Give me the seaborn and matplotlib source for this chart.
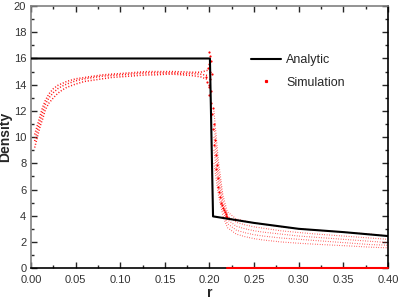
import numpy as np
import pandas as pd
import seaborn as sns
import matplotlib.pyplot as plt
from matplotlib.lines import Line2D

sns.set_style('ticks')
plt.rcParams['font.family'] = ['Liberation Sans', 'DejaVu Sans']

# Analytic solution
r_analytic = [0.0, 0.2005, 0.204, 0.25, 0.30, 0.35, 0.40]
dens_analytic = [16.0, 16.0, 3.95, 3.45, 3.0, 2.75, 2.45]

# Simulation, inner region: strands of the dotted band
r_inner = [0.004, 0.007, 0.01, 0.013, 0.016, 0.02, 0.025, 0.03, 0.035, 0.04, 0.05, 0.06,
           0.07, 0.08, 0.09, 0.10, 0.11, 0.12, 0.13, 0.14, 0.15, 0.16, 0.17, 0.18, 0.19, 0.198]
inner_high = [10.2, 10.9, 11.6, 12.3, 12.8, 13.3, 13.7, 13.95, 14.1, 14.25, 14.45, 14.55,
              14.65, 14.75, 14.8, 14.85, 14.9, 14.95, 15.0, 15.0, 15.0, 15.0, 14.98, 14.95, 14.95, 15.1]
inner_mid = [9.7, 10.5, 11.2, 11.9, 12.5, 13.0, 13.4, 13.7, 13.9, 14.05, 14.3, 14.45,
             14.55, 14.65, 14.7, 14.75, 14.8, 14.85, 14.9, 14.9, 14.9, 14.9, 14.85, 14.85, 14.8, 14.7]
inner_low = [9.2, 10.0, 10.8, 11.4, 12.1, 12.6, 13.0, 13.35, 13.6, 13.8, 14.05, 14.25,
             14.35, 14.45, 14.55, 14.6, 14.65, 14.7, 14.75, 14.75, 14.8, 14.8, 14.75, 14.7, 14.6, 14.4]

# Simulation near the shock front (scattered points)
r_front = [0.196, 0.197, 0.198, 0.199, 0.199, 0.200, 0.200, 0.200, 0.201, 0.201, 0.201, 0.202,
           0.202, 0.202, 0.203, 0.203, 0.204, 0.204, 0.205, 0.205, 0.206, 0.207, 0.207, 0.208,
           0.209, 0.210, 0.211, 0.212, 0.213, 0.214, 0.215, 0.216, 0.217, 0.218, 0.219, 0.220]
dens_front = [14.6, 14.2, 15.3, 13.8, 15.6, 16.5, 14.0, 13.2, 16.2, 15.0, 14.4, 15.8,
              13.5, 12.6, 14.8, 11.8, 12.2, 10.6, 11.0, 9.4, 9.8, 8.6, 7.6, 7.9,
              6.9, 6.2, 5.8, 5.4, 5.0, 4.8, 4.6, 4.4, 4.3, 4.1, 4.0, 3.9]

# Simulation, outer region: strands fanning out below the analytic line
r_outer = [0.205, 0.21, 0.215, 0.22, 0.23, 0.24, 0.25, 0.26, 0.28, 0.30, 0.32, 0.34, 0.36, 0.38, 0.40]
outer_1 = [12.0, 8.2, 5.6, 4.3, 3.75, 3.6, 3.45, 3.35, 3.15, 3.0, 2.9, 2.8, 2.7, 2.6, 2.45]
outer_2 = [11.0, 7.5, 5.2, 4.0, 3.5, 3.3, 3.15, 3.05, 2.85, 2.72, 2.6, 2.5, 2.4, 2.3, 2.2]
outer_3 = [10.0, 6.8, 4.8, 3.7, 3.2, 3.0, 2.85, 2.75, 2.6, 2.45, 2.35, 2.25, 2.15, 2.05, 1.95]
outer_4 = [9.0, 6.2, 4.4, 3.4, 2.9, 2.7, 2.55, 2.45, 2.3, 2.2, 2.1, 2.0, 1.9, 1.8, 1.75]
outer_5 = [8.0, 5.6, 4.0, 3.1, 2.6, 2.4, 2.25, 2.15, 2.0, 1.9, 1.82, 1.75, 1.68, 1.6, 1.55]

# Particles with zero density beyond the front
r_zero = [0.22, 0.23, 0.24, 0.25, 0.26, 0.27, 0.28, 0.29, 0.30, 0.31, 0.32, 0.33, 0.34,
          0.35, 0.36, 0.37, 0.38, 0.39, 0.40]
dens_zero = [0.0] * len(r_zero)

red = '#ff0000'
fig, ax = plt.subplots(figsize=(3.99, 3.04), dpi=100)
fig.subplots_adjust(left=0.078, right=0.972, bottom=0.118, top=0.980)

for dens in [inner_high, inner_mid, inner_low]:
    sns.lineplot(x=r_inner, y=dens, ax=ax, color=red, lw=1.1, ls=(0, (0.7, 1.2)), alpha=0.9)
for dens in [outer_1, outer_2, outer_3, outer_4, outer_5]:
    sns.lineplot(x=r_outer, y=dens, ax=ax, color=red, lw=0.8, ls=(0, (0.6, 1.6)), alpha=0.85)
sns.scatterplot(x=r_front, y=dens_front, ax=ax, color=red, s=2.5, linewidth=0)
sns.lineplot(x=r_zero, y=dens_zero, ax=ax, color=red, lw=1.5, clip_on=False, zorder=5)

sns.lineplot(x=r_analytic, y=dens_analytic, ax=ax, color='black', lw=1.5, zorder=4)

ax.set_xlim(0, 0.40)
ax.set_ylim(0, 20)
ax.set_xticks([0.0, 0.05, 0.10, 0.15, 0.20, 0.25, 0.30, 0.35, 0.40])
ax.set_xticklabels(['0.00', '0.05', '0.10', '0.15', '0.20', '0.25', '0.30', '0.35', '0.40'])
ax.set_yticks(range(0, 21, 2))
ax.set_xticks(np.arange(0.025, 0.4, 0.05), minor=True)
ax.set_yticks(range(1, 20, 2), minor=True)
ax.tick_params(which='both', direction='in', top=True, right=True, labelsize=8,
               labelcolor='#333333', pad=5)
ax.tick_params(axis='y', which='both', pad=3.5)
ax.tick_params(which='major', length=4, width=1)
ax.tick_params(which='minor', length=2, width=1)

for side, col in [('left', '#808080'), ('top', '#808080'), ('bottom', 'black'), ('right', 'black')]:
    ax.spines[side].set_color(col)
    ax.spines[side].set_linewidth(1.2)

ax.set_xlabel('r', fontsize=10, fontweight='bold')
ax.set_ylabel('Density', fontsize=10, fontweight='bold')
ax.xaxis.set_label_coords(0.5, -0.068)
ax.yaxis.set_label_coords(-0.052, 0.5)

handles = [Line2D([], [], color='black', lw=1.5),
           Line2D([], [], color=red, marker='s', ms=1.3, ls='none')]
ax.legend(handles, ['Analytic', 'Simulation'], loc='upper left', bbox_to_anchor=(0.585, 0.86),
          frameon=False, fontsize=9, handlelength=2.4, handletextpad=0.4, labelspacing=0.85)

fig.savefig('out.png', dpi=100)
